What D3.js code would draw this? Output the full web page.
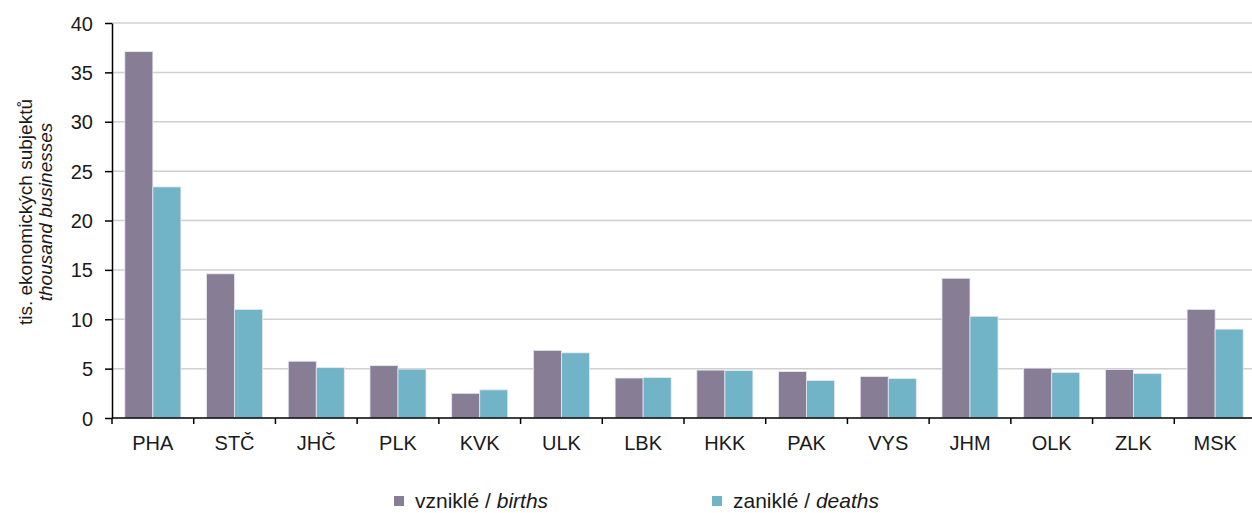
<!DOCTYPE html>
<meta charset="utf-8">
<style>
body { margin: 0; background: #fff; }
svg text { font-family: "Liberation Sans", Arial, sans-serif; fill: #1a1a1a; }
.grid line { stroke: #d0d0d0; stroke-width: 1.5px; }
.axis path, .axis line { stroke: #000; stroke-width: 1.5px; fill: none; }
.axis text { font-size: 20px; }
</style>
<div id="chart"></div>
<script src="https://d3js.org/d3.v7.min.js"></script>
<script>

// regions and values (thousand businesses)
var regions = ["PHA", "STČ", "JHČ", "PLK", "KVK", "ULK", "LBK", "HKK", "PAK", "VYS", "JHM", "OLK", "ZLK", "MSK"];
var births = [37.1, 14.6, 5.75, 5.3, 2.5, 6.85, 4.05, 4.85, 4.7, 4.2, 14.15, 5.05, 4.9, 11.0];
var deaths = [23.4, 11.0, 5.1, 4.95, 2.85, 6.6, 4.1, 4.8, 3.8, 4.0, 10.3, 4.6, 4.5, 9.0];
var yTicks = [0, 5, 10, 15, 20, 25, 30, 35, 40];

var seriesKeys = ["births", "deaths"];
var colors = { births: "#877e95", deaths: "#71b4c7" };

var width = 1252, height = 513;
var margin = { left: 112, top: 23, right: -4, bottom: 95 };
var innerW = width - margin.left - margin.right,
    innerH = height - margin.top - margin.bottom;

var data = regions.map(function(r, i) {
  return { region: r, births: births[i], deaths: deaths[i] };
});

var svg = d3.select("#chart").append("svg")
  .attr("width", width)
  .attr("height", height);

var g = svg.append("g")
  .attr("transform", "translate(" + margin.left + "," + margin.top + ")");

var x0 = d3.scaleBand().domain(regions).range([0, innerW]).padding(0);
var bw = x0.bandwidth();
var x1 = d3.scaleBand().domain(seriesKeys).range([bw * 0.157, bw * 0.843]).padding(0);
var y = d3.scaleLinear().domain([0, 40]).range([innerH, 0]);

// gridlines
g.append("g")
  .attr("class", "grid")
  .selectAll("line")
  .data(yTicks.filter(function(d) { return d > 0; }))
  .enter().append("line")
  .attr("x1", 0)
  .attr("x2", innerW)
  .attr("y1", function(d) { return y(d); })
  .attr("y2", function(d) { return y(d); });

// bars
var groups = g.selectAll(".region")
  .data(data)
  .enter().append("g")
  .attr("class", "region")
  .attr("transform", function(d) { return "translate(" + x0(d.region) + ",0)"; });

groups.selectAll("rect")
  .data(function(d) { return seriesKeys.map(function(k) { return { key: k, value: d[k] }; }); })
  .enter().append("rect")
  .attr("x", function(d) { return x1(d.key); })
  .attr("width", x1.bandwidth())
  .attr("y", function(d) { return y(d.value); })
  .attr("height", function(d) { return innerH - y(d.value); })
  .attr("fill", function(d) { return colors[d.key]; })
  .attr("stroke", "#e8e8ee")
  .attr("stroke-width", 0.8);

// y axis
var yAxis = g.append("g")
  .attr("class", "axis")
  .call(d3.axisLeft(y).tickValues(yTicks).tickSize(7).tickPadding(12).tickSizeOuter(0));
yAxis.selectAll("text").attr("dy", "0.35em");

// x axis with ticks at category boundaries
var xAxis = g.append("g")
  .attr("class", "axis")
  .attr("transform", "translate(0," + innerH + ")");
xAxis.append("line")
  .attr("x1", 0).attr("x2", innerW)
  .attr("y1", 0).attr("y2", 0);
xAxis.selectAll(".tick")
  .data(regions)
  .enter().append("line")
  .attr("class", "tick")
  .attr("x1", function(d) { return x0(d); })
  .attr("x2", function(d) { return x0(d); })
  .attr("y1", 0).attr("y2", 6);
xAxis.selectAll(".label")
  .data(regions)
  .enter().append("text")
  .attr("class", "label")
  .attr("x", function(d) { return x0(d) + bw / 2; })
  .attr("y", 32)
  .attr("text-anchor", "middle")
  .text(function(d) { return d; });

// y title
var yTitle = svg.append("g")
  .attr("transform", "translate(0,212) rotate(-90)");
yTitle.append("text")
  .attr("x", 0).attr("y", 32)
  .attr("text-anchor", "middle")
  .style("font-size", "19px")
  .text("tis. ekonomických subjektů");
yTitle.append("text")
  .attr("x", 0).attr("y", 52)
  .attr("text-anchor", "middle")
  .style("font-size", "19px")
  .style("font-style", "italic")
  .text("thousand businesses");

// legend
var legendItems = [
  { key: "births", cz: "vzniklé / ", en: "births", x: 394 },
  { key: "deaths", cz: "zaniklé / ", en: "deaths", x: 712 }
];
var legend = svg.selectAll(".legend")
  .data(legendItems)
  .enter().append("g")
  .attr("class", "legend")
  .attr("transform", function(d) { return "translate(" + d.x + ",496)"; });
legend.append("rect")
  .attr("width", 10)
  .attr("height", 10)
  .attr("fill", function(d) { return colors[d.key]; });
legend.append("text")
  .attr("x", 21)
  .attr("y", 12)
  .style("font-size", "21px")
  .each(function(d) {
    var t = d3.select(this);
    t.append("tspan").text(d.cz);
    t.append("tspan").style("font-style", "italic").text(d.en);
  });
</script>
